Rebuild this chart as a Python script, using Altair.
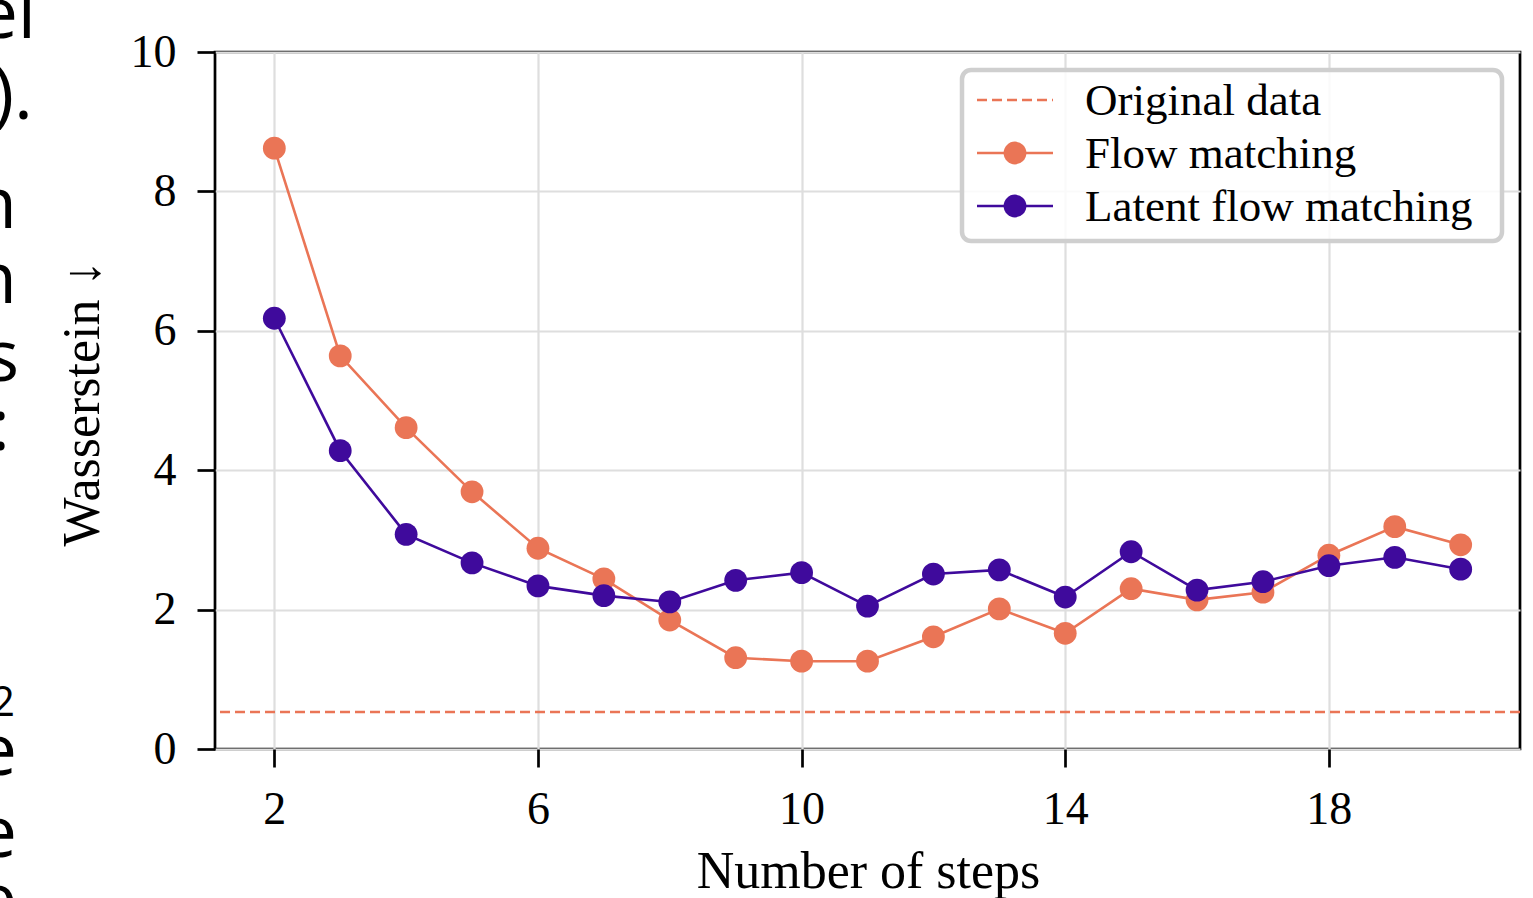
import altair as alt
import pandas as pd

# ---------------- data ----------------
steps = list(range(2, 21))
flow_matching = [8.62, 5.64, 4.61, 3.69, 2.88, 2.44, 1.85, 1.31, 1.26, 1.26,
                 1.61, 2.01, 1.66, 2.30, 2.14, 2.25, 2.78, 3.19, 2.93]
latent_flow_matching = [6.18, 4.28, 3.08, 2.67, 2.34, 2.20, 2.11, 2.42, 2.53, 2.05,
                        2.51, 2.57, 2.18, 2.83, 2.28, 2.40, 2.63, 2.75, 2.58]
original_data = 0.53
series_names = ["Original data", "Flow matching", "Latent flow matching"]
series_colors = ["#EA7556", "#EA7556", "#3F0A9C"]
x_ticks = [2, 6, 10, 14, 18]
y_ticks = [0, 2, 4, 6, 8, 10]

# fragments of neighbouring page text, cut off at the left edge
frag_texts = ["el", ").", "n", "n", "s", ":", "2", "e", "e", "e"]
frag_right = [36, 33, 17, 17, 19, 10, 15, 17, 17, 17]
frag_base = [38, 119, 228, 303, 381, 450, 716, 775, 857, 924]
frag_size = [72, 72, 72, 72, 72, 72, 42, 72, 72, 72]

SERIF = "Liberation Serif"
PAD_L, PAD_T = 215, 52
W, H = 1305, 697
MARK_SIZE = 520

df_flow = pd.DataFrame({"step": steps, "value": flow_matching, "series": series_names[1]})
df_lat = pd.DataFrame({"step": steps, "value": latent_flow_matching, "series": series_names[2]})
df_orig = pd.DataFrame({"value": [original_data], "series": [series_names[0]]})

xscale = alt.Scale(domain=[1.1, 20.9], nice=False, zero=False)
yscale = alt.Scale(domain=[0, 10], nice=False)

xaxis = alt.Axis(values=x_ticks, title="Number of steps", grid=True)
yaxis = alt.Axis(values=y_ticks, title="Wasserstein ↓", grid=True)


def series_layer(df, color):
    base = alt.Chart(df).encode(
        x=alt.X("step:Q", scale=xscale, axis=xaxis),
        y=alt.Y("value:Q", scale=yscale, axis=yaxis),
    )
    line = base.mark_line(color=color, strokeWidth=2.6)
    pts = base.mark_point(color=color, filled=True, size=MARK_SIZE, opacity=1, shape="circle")
    return line + pts


orig_rule = alt.Chart(df_orig).mark_rule(
    color=series_colors[0], strokeWidth=2.6, strokeDash=[10, 5]
).encode(y=alt.Y("value:Q", scale=yscale, axis=yaxis))

# ---------------- manual legend ----------------
one = pd.DataFrame({"k": [0]})
box = alt.Chart(one).mark_rect(
    fill="white", fillOpacity=0.85, stroke="#cfcfcf", strokeWidth=4.5, cornerRadius=9
).encode(
    x=alt.value(962 - PAD_L), x2=alt.value(1502 - PAD_L),
    y=alt.value(70 - PAD_T), y2=alt.value(241 - PAD_T),
)

legend_layers = [box]
row_centers = [100, 153, 206]
for i, name in enumerate(series_names):
    yc = row_centers[i] - PAD_T
    rule = alt.Chart(one).mark_rule(
        color=series_colors[i], strokeWidth=2.6,
        strokeDash=[10, 5] if i == 0 else [1, 0],
    ).encode(x=alt.value(977 - PAD_L), x2=alt.value(1053 - PAD_L), y=alt.value(yc))
    legend_layers.append(rule)
    if i > 0:
        dot = alt.Chart(one).mark_point(
            color=series_colors[i], filled=True, size=MARK_SIZE, opacity=1, shape="circle"
        ).encode(x=alt.value(1015 - PAD_L), y=alt.value(yc))
        legend_layers.append(dot)
    txt = alt.Chart(pd.DataFrame({"label": [name]})).mark_text(
        align="left", baseline="alphabetic", font=SERIF, fontSize=45, color="black"
    ).encode(x=alt.value(1085 - PAD_L), y=alt.value(yc + 15), text="label:N")
    legend_layers.append(txt)

frag_layers = []
for t, r, b, s in zip(frag_texts, frag_right, frag_base, frag_size):
    frag_layers.append(
        alt.Chart(pd.DataFrame({"t": [t]})).mark_text(
            align="right", baseline="alphabetic", font="Open Sans", fontSize=s, color="black"
        ).encode(x=alt.value(r - PAD_L), y=alt.value(b - PAD_T), text="t:N")
    )

chart = alt.layer(
    orig_rule,
    series_layer(df_flow, series_colors[1]),
    series_layer(df_lat, series_colors[2]),
    *legend_layers,
    *frag_layers,
).properties(
    width=W, height=H,
    autosize=alt.AutoSizeParams(type="none"),
    padding={"left": PAD_L, "top": PAD_T, "right": 1533 - PAD_L - W, "bottom": 898 - PAD_T - H},
    background="white",
).configure_view(
    stroke="black", strokeWidth=2.7
).configure_axis(
    domain=False,
    grid=True, gridColor="#dedede", gridWidth=2.2,
    ticks=True, tickSize=18, tickWidth=2.7, tickColor="black",
    labelFont=SERIF, labelFontSize=46, labelColor="black",
    titleFont=SERIF, titleFontSize=52, titleFontWeight="normal", titleColor="black",
).configure_axisX(
    labelBaseline="alphabetic", labelPadding=56,
    titleBaseline="alphabetic", titleY=887 - 749, titleX=868 - PAD_L, titleAlign="center",
).configure_axisY(
    labelPadding=21,
    titleAngle=270, titleBaseline="alphabetic", titleX=98 - PAD_L, titleY=403 - PAD_T,
    titleAlign="center",
)

chart.save("out.html", embed_options={"renderer": "svg", "actions": False})
